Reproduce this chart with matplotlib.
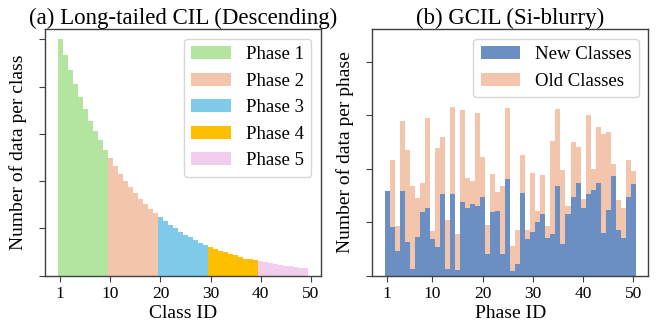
import numpy as np
import matplotlib
matplotlib.use("Agg")
import matplotlib.pyplot as plt

plt.rcParams['font.family'] = ['Liberation Serif', 'DejaVu Serif']

# (a) long-tailed: samples per class (index 0..49 shown as class 1..50)
class_ids = np.arange(50)
class_counts = [500, 466, 434, 405, 377, 352, 328, 307, 286, 265,
                248, 232, 216, 201, 187, 174, 163, 152, 141, 133,
                124, 116, 107, 100, 93, 86, 81, 75, 70, 65,
                61, 57, 53, 50, 46, 43, 39, 36, 36, 34,
                31, 29, 27, 24, 22, 21, 20, 18, 17, 17]
phase_labels = ['Phase 1', 'Phase 2', 'Phase 3', 'Phase 4', 'Phase 5']
phase_colors = ['#b3e5a0', '#f4c5ad', '#7fcae9', '#ffbf00', '#f1cfec']
class_ticks = [0, 10, 20, 30, 40, 50]
class_ticklabels = ['1', '10', '20', '30', '40', '50']

# (b) Si-blurry: data per phase (new / old classes)
phase_ids = np.arange(1, 51)
new_counts = [1.58, 0.90, 0.46, 1.58, 0.63, 0.12, 0.72, 1.19, 1.26, 0.68,
              0.53, 1.53, 0.12, 1.53, 0.10, 1.38, 1.26, 1.34, 1.30, 1.47,
              0.40, 1.19, 1.21, 0.40, 1.81, 0.08, 0.22, 1.55, 0.68, 0.81,
              1.00, 1.15, 0.70, 0.78, 1.68, 0.59, 1.15, 1.47, 1.73, 1.26,
              1.53, 1.60, 1.73, 0.80, 1.23, 1.86, 0.85, 0.70, 1.47, 1.71]
old_counts = [0.00, 1.26, 0.47, 1.31, 1.72, 1.56, 0.73, 0.54, 1.69, 0.15,
              1.86, 1.06, 0.92, 1.63, 0.68, 1.72, 0.57, 0.43, 1.74, 0.75,
              0.55, 0.71, 0.35, 1.28, 1.33, 0.47, 0.63, 0.71, 0.17, 1.11,
              0.21, 0.73, 0.23, 1.74, 1.44, 1.38, 0.15, 1.03, 0.68, 0.17,
              1.48, 0.40, 1.05, 1.85, 1.46, 0.23, 0.56, 0.56, 0.69, 0.25]
phase_ticks = [1, 10, 20, 30, 40, 50]

fig = plt.figure(figsize=(6.65, 3.29), dpi=100)
ax1 = fig.add_axes([0.0681, 0.1620, 0.4142, 0.7489])
ax2 = fig.add_axes([0.5598, 0.1626, 0.4151, 0.7483])

# left panel
for p in range(5):
    sl = slice(p * 10, (p + 1) * 10)
    ax1.bar(class_ids[sl], class_counts[sl], width=1.0, color=phase_colors[p],
            label=phase_labels[p], linewidth=0)
ax1.set_xlim(-3, 52)
ax1.set_ylim(0, 521)
ax1.set_yticks([0, 100, 200, 300, 400, 500])
ax1.set_yticklabels([])
ax1.set_xticks(class_ticks)
ax1.set_xticklabels(class_ticklabels)
ax1.set_xlabel('Class ID', fontsize=14, labelpad=2)
ax1.set_ylabel('Number of data per class', fontsize=14, labelpad=6)
ax1.set_title('(a) Long-tailed CIL (Descending)', fontsize=16.5, pad=3)
ax1.legend(loc='upper right', fontsize=13.5, handlelength=2.1)

# right panel
ax2.bar(phase_ids, new_counts, width=1.0, color='#6c8fc3', label='New Classes',
        linewidth=0)
ax2.bar(phase_ids, old_counts, width=1.0, bottom=new_counts, color='#f4c5ad',
        label='Old Classes', linewidth=0)
ax2.set_xlim(-2, 53)
ax2.set_ylim(0, 4.61)
ax2.set_yticks([0, 1, 2, 3, 4])
ax2.set_yticklabels([])
ax2.set_xticks(phase_ticks)
ax2.set_xlabel('Phase ID', fontsize=14, labelpad=2)
ax2.set_ylabel('Number of data per phase', fontsize=14, labelpad=6)
ax2.set_title('(b) GCIL (Si-blurry)', fontsize=16.5, pad=3)
ax2.legend(loc='upper right', fontsize=13.5, handlelength=2.1)

for ax in (ax1, ax2):
    ax.tick_params(labelsize=12.5, color='0.25', length=4)
    for s in ax.spines.values():
        s.set_color('0.25')
        s.set_linewidth(1.0)

fig.savefig('out.png', dpi=100)
